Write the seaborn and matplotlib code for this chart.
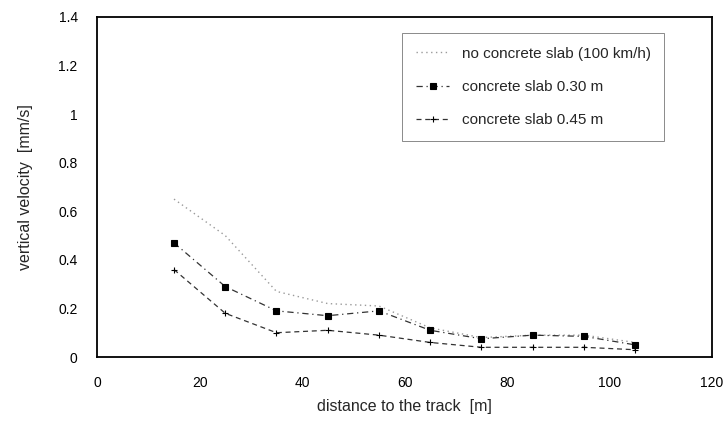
import numpy as np
import pandas as pd
import matplotlib
matplotlib.use("Agg")
import matplotlib.pyplot as plt
import seaborn as sns

distance = [15, 25, 35, 45, 55, 65, 75, 85, 95, 105]
no_slab = [0.65, 0.50, 0.27, 0.22, 0.21, 0.12, 0.08, 0.09, 0.09, 0.06]
slab_030 = [0.47, 0.29, 0.19, 0.17, 0.19, 0.11, 0.075, 0.09, 0.085, 0.05]
slab_045 = [0.36, 0.18, 0.10, 0.11, 0.09, 0.06, 0.04, 0.04, 0.04, 0.03]
series_names = ["no concrete slab (100 km/h)", "concrete slab 0.30 m", "concrete slab 0.45 m"]
x_ticks = [0, 20, 40, 60, 80, 100, 120]
y_ticks = [0, 0.2, 0.4, 0.6, 0.8, 1, 1.2, 1.4]
y_tick_labels = ["0", "0.2", "0.4", "0.6", "0.8", "1", "1.2", "1.4"]

sns.set_theme(style="white")
plt.rcParams['font.family'] = ['Liberation Sans', 'DejaVu Sans']

df = pd.DataFrame({
    "distance": distance * 3,
    "velocity": no_slab + slab_030 + slab_045,
    "series": [series_names[0]] * len(distance) + [series_names[1]] * len(distance) + [series_names[2]] * len(distance),
})

fig = plt.figure(figsize=(7.25, 4.23), dpi=100)
ax = fig.add_axes([0.134, 0.156, 0.848, 0.804])

styles = {
    series_names[0]: dict(color="#9a9a9a", linestyle=(0, (1, 2.5)), marker=None, lw=1.0),
    series_names[1]: dict(color="#333333", linestyle=(0, (5, 3, 1, 3)), marker="s", ms=4, lw=0.9),
    series_names[2]: dict(color="#333333", linestyle=(0, (4, 3)), marker="+", ms=4, lw=0.9),
}
for name in series_names:
    sub = df[df["series"] == name]
    st = styles[name]
    sns.lineplot(data=sub, x="distance", y="velocity", ax=ax, label=name,
                 color=st["color"], linestyle=st["linestyle"], marker=st["marker"],
                 markersize=st.get("ms", 0), linewidth=st["lw"],
                 markeredgecolor="black", markerfacecolor="black", markeredgewidth=0.8)

ax.set_xlim(0, 120)
ax.set_ylim(0, 1.4)
ax.set_xticks(x_ticks)
ax.set_yticks(y_ticks)
ax.set_yticklabels(y_tick_labels)
ax.tick_params(axis="both", direction="in", length=4, width=0.8, colors="black", labelsize=10)
ax.tick_params(axis="x", pad=14)
ax.tick_params(axis="y", pad=14)
for s in ax.spines.values():
    s.set_color("black")
    s.set_linewidth(1.3)
ax.set_xlabel("distance to the track  [m]", fontsize=11.5, labelpad=6)
ax.set_ylabel("vertical velocity  [mm/s]", fontsize=11.5, labelpad=18)

leg = ax.legend(loc="upper right", bbox_to_anchor=(0.935, 0.975), frameon=True, fontsize=11,
                handlelength=2.2, labelspacing=1.25, borderpad=0.9, fancybox=False)
leg.get_frame().set_edgecolor("#555555")
leg.get_frame().set_linewidth(0.6)

fig.savefig("out.png", dpi=100, facecolor="white")
